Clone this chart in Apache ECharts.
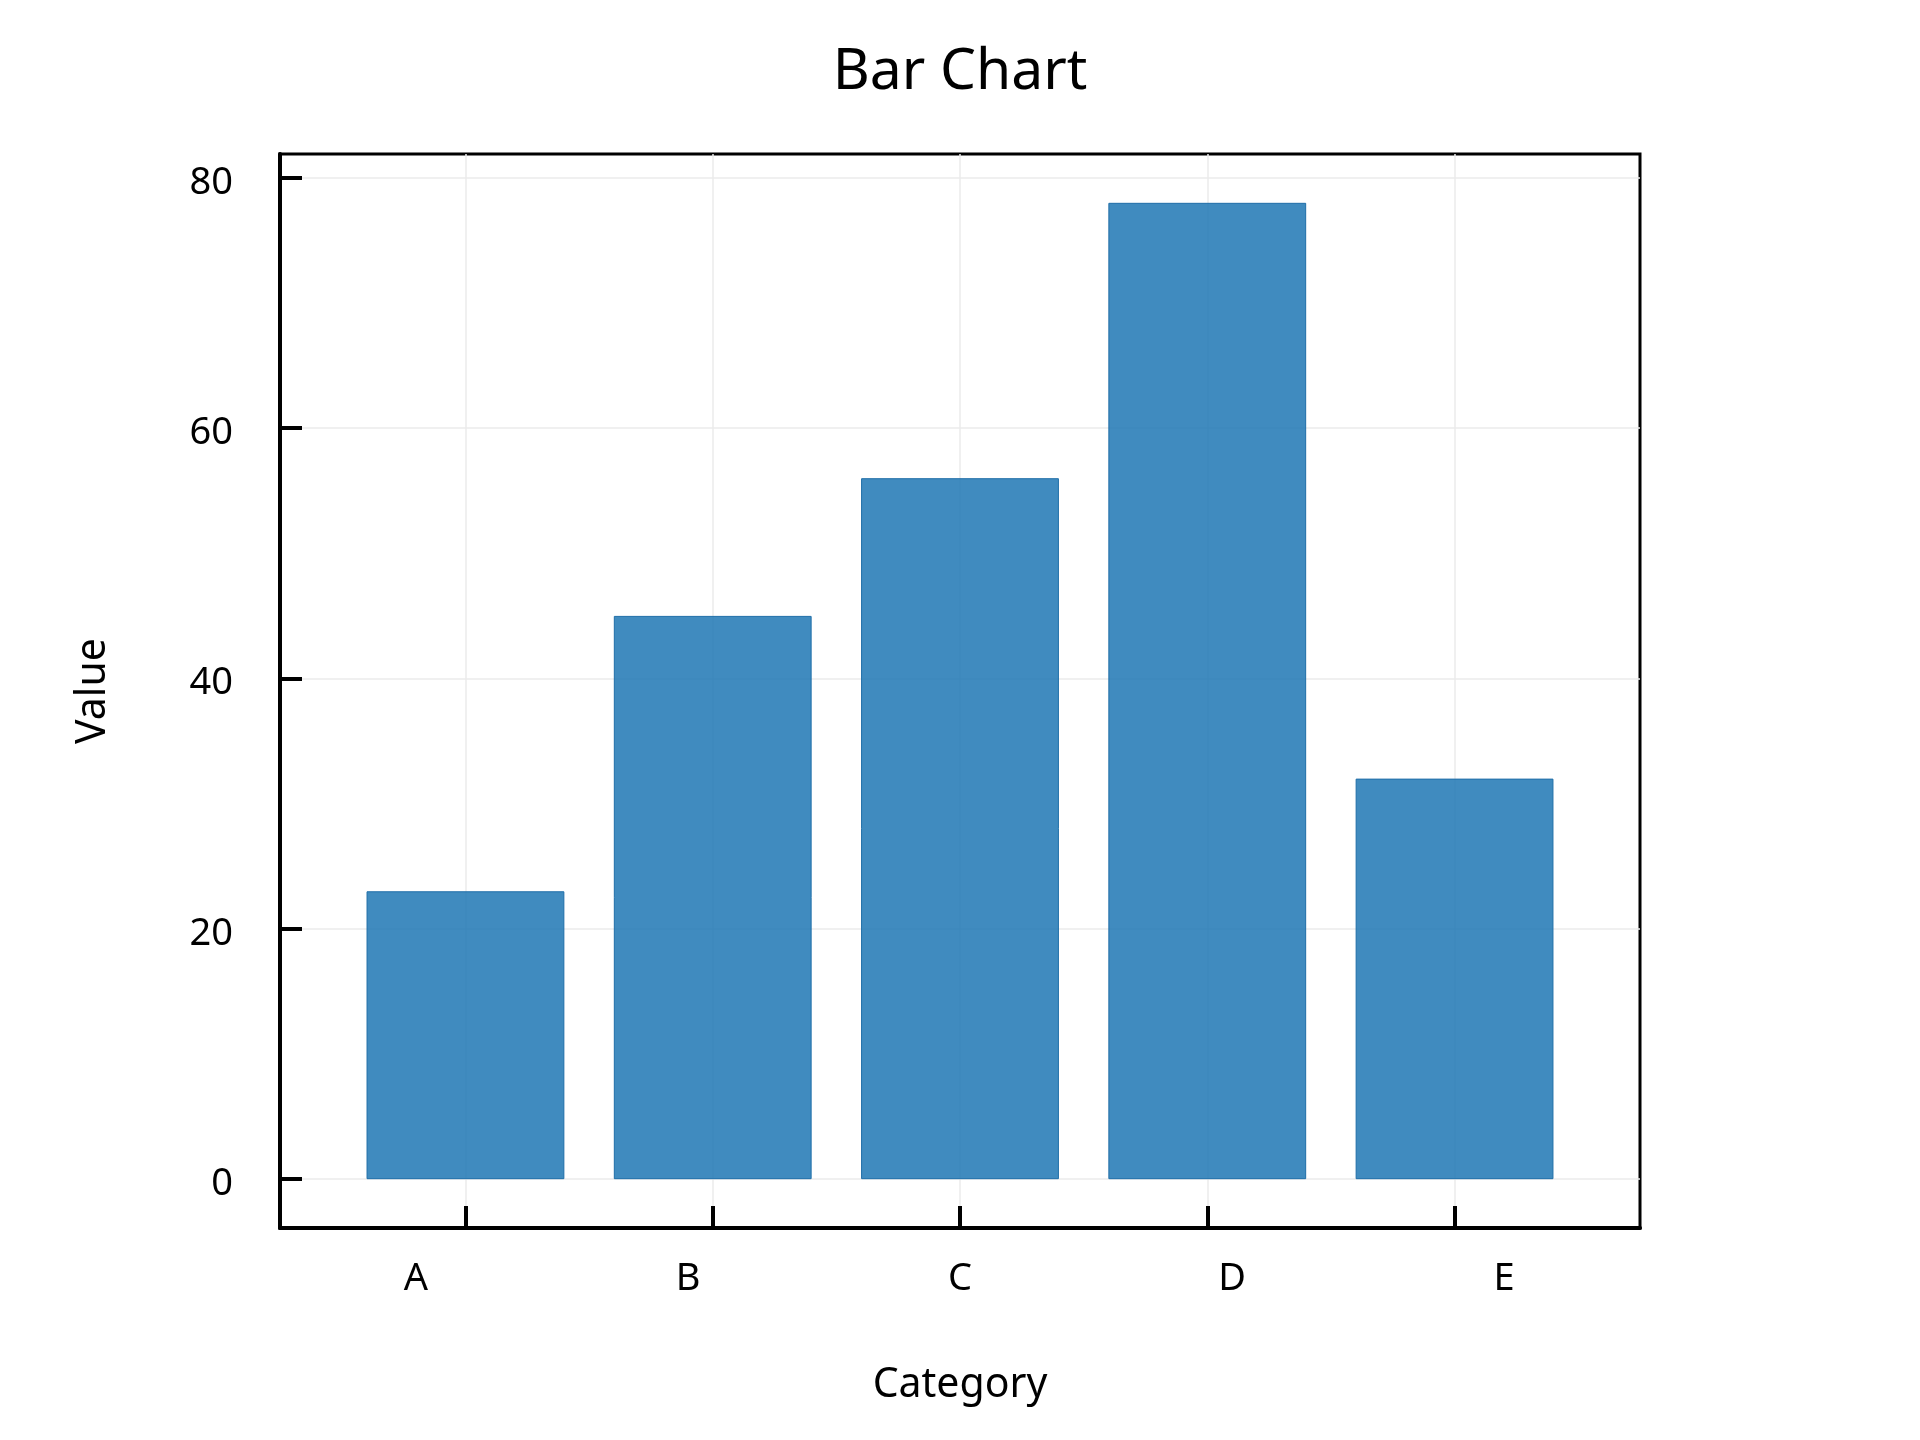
<!DOCTYPE html>
<html>
<head>
<meta charset="utf-8">
<script src="https://cdn.jsdelivr.net/npm/echarts@6/dist/echarts.min.js"></script>
<style>html,body{margin:0;padding:0;background:#fff}#c{width:1920px;height:1440px}</style>
</head>
<body>
<div id="c"></div>
<script>
const categories = ['A', 'B', 'C', 'D', 'E'];
const values = [23, 45, 56, 78, 32];
const categoryPositions = [1, 2, 3, 4, 5];
const yTicks = [0, 20, 40, 60, 80];
const xRange = [0.25, 5.75];
const yRange = [-3.9, 81.9];

const FONT = 'Noto Sans';
const chart = echarts.init(document.getElementById('c'), null, {renderer: 'canvas'});
const grid = {left: 280, right: 280, top: 154, bottom: 212, show: true, borderColor: '#000', borderWidth: 3, backgroundColor: 'transparent'};

chart.setOption({
  backgroundColor: '#fff',
  animation: false,
  textStyle: {fontFamily: FONT, color: '#000'},
  title: {
    text: 'Bar Chart', left: 'center', top: 39,
    textStyle: {fontFamily: FONT, fontSize: 57, fontWeight: 'normal', color: '#000'}
  },
  grid: grid,
  xAxis: [
    {
      type: 'value', min: xRange[0], max: xRange[1], position: 'bottom',
      axisLine: {show: true, onZero: false, lineStyle: {color: '#000', width: 4}},
      axisTick: {show: true, inside: true, length: 22, lineStyle: {color: '#000', width: 4}, customValues: categoryPositions},
      axisLabel: {show: false},
      splitLine: {show: true, lineStyle: {color: '#ebebeb', width: 1.5}}
    },
    {
      type: 'category', data: categories, boundaryGap: true, position: 'bottom', offset: 0,
      axisLine: {show: false, onZero: false}, axisTick: {show: false},
      axisLabel: {show: true, margin: 32, fontFamily: FONT, fontSize: 38, color: '#000'},
      splitLine: {show: false},
      name: 'Category', nameLocation: 'middle', nameGap: 137,
      nameTextStyle: {fontFamily: FONT, fontSize: 41, color: '#000'}
    }
  ],
  yAxis: [
    {
      type: 'value', min: yRange[0], max: yRange[1], position: 'left',
      axisLine: {show: true, onZero: false, lineStyle: {color: '#000', width: 4}},
      axisTick: {show: true, inside: true, length: 22, lineStyle: {color: '#000', width: 4}, customValues: yTicks},
      axisLabel: {show: true, margin: 47, fontFamily: FONT, fontSize: 38, color: '#000', customValues: yTicks, verticalAlign: 'top', lineHeight: 10},
      splitLine: {show: true, lineStyle: {color: '#ebebeb', width: 1.5}},
      name: 'Value', nameLocation: 'middle', nameGap: 166, nameRotate: 90,
      nameTextStyle: {fontFamily: FONT, fontSize: 41, color: '#000'}
    }
  ],
  series: [
    {
      type: 'bar', xAxisIndex: 0, yAxisIndex: 0,
      data: categoryPositions.map((p, i) => [p, values[i]]),
      barWidth: '80%',
      clip: false,
      itemStyle: {color: 'rgba(31,119,180,0.85)', borderColor: '#1f6ea8', borderWidth: 1}
    }
  ]
});
</script>
</body>
</html>
